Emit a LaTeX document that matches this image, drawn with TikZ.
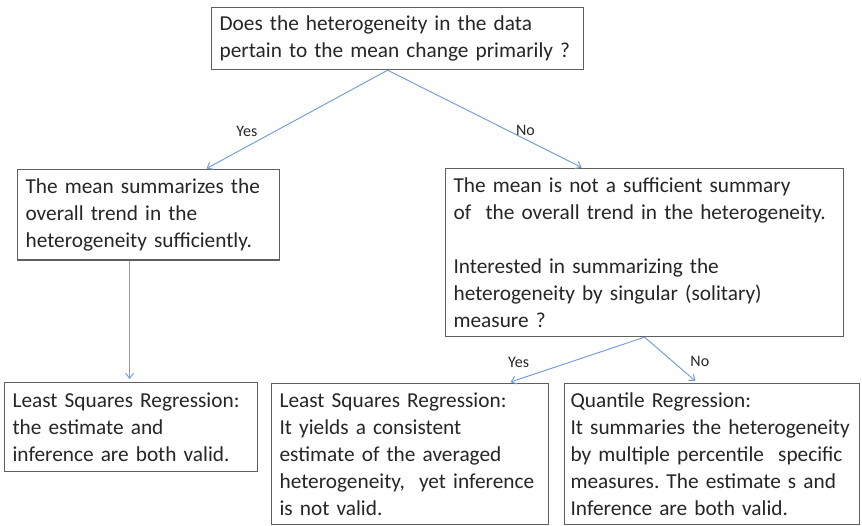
\documentclass[tikz,border=0pt]{standalone}
\usepackage{fontspec}
\setmainfont{Carlito}
\usepackage{tikz}
\usetikzlibrary{arrows.meta, positioning}
\definecolor{boxgray}{RGB}{95, 95, 95}
\definecolor{inkgray}{RGB}{38, 38, 38}
\definecolor{flowblue}{RGB}{120, 160, 215}
\hyphenpenalty=10000
\frenchspacing

\begin{document}
\begin{tikzpicture}[
    x=1pt, y=-1pt,
    qbox/.style={rectangle, draw=boxgray, line width=1.2pt, fill=white, anchor=north west, align=left, text=inkgray, font=\fontsize{21.3}{27}\selectfont, inner xsep=8pt, inner ysep=9pt},
    edgelbl/.style={font=\fontsize{16}{18}\selectfont, text=inkgray, inner sep=1pt},
    flow/.style={draw=flowblue, line width=1pt, -{Straight Barb[length=5pt, width=8pt]}}
]
    \useasboundingbox (0, 0) rectangle (862, 525);

    % Question at the top
    \node[qbox, text width=356pt, inner ysep=7pt, minimum height=62pt] (question) at (211, 7) {Does the heterogeneity in the data\\pertain to the mean change primarily~?};

    % Second row
    \node[qbox, text width=246pt] (meanok) at (17, 169) {The mean summarizes the\\overall trend in the\\heterogeneity sufficiently.};
    \node[qbox, text width=382pt] (meannot) at (445, 168) {The mean is not a sufficient summary\\of\ \ the overall trend in the heterogeneity.\\[27pt]Interested in summarizing the\\heterogeneity by singular (solitary)\\measure~?};

    % Answers
    \node[qbox, text width=237pt, minimum height=89pt] (lsqvalid) at (4, 382) {Least Squares Regression:\\the estimate and\\inference are both valid.};
    \node[qbox, text width=261pt] (lsqnot) at (271, 383) {Least Squares Regression:\\It yields a consistent\\estimate of the averaged\\heterogeneity,\ \ yet inference\\is not valid.};
    \node[qbox, text width=283pt, inner xsep=6pt] (quantile) at (564, 383) {Quantile Regression:\\It summaries the heterogeneity\\by multiple percentile\ \ specific\\measures. The estimate s and\\Inference are both valid.};

    % Connectors
    \draw[flow, shorten >=1pt] ([xshift=-10pt]question.south) -- node[edgelbl, pos=0.62, left=16pt] (yestop) {Yes} ([xshift=57pt]meanok.north);
    \draw[flow, shorten >=1pt] ([xshift=-10pt]question.south) -- node[edgelbl, pos=0.62, right=6pt] (notop) {No} ([xshift=-62pt]meannot.north);
    \coordinate (meandown) at ([xshift=-19pt]meanok.south);
    \draw[flow, shorten >=3pt] (meandown) -- (meandown |- lsqvalid.north);
    \draw[flow, shorten >=3pt] (meannot.south) -- node[edgelbl, pos=0.92, above=10pt] (yesbot) {Yes} ([xshift=97.5pt]lsqnot.north);
    \draw[flow, shorten >=3pt] (meannot.south) -- node[edgelbl, pos=0.535, right=16pt] (nobot) {No} ([xshift=-14.5pt]quantile.north);
\end{tikzpicture}
\end{document}
